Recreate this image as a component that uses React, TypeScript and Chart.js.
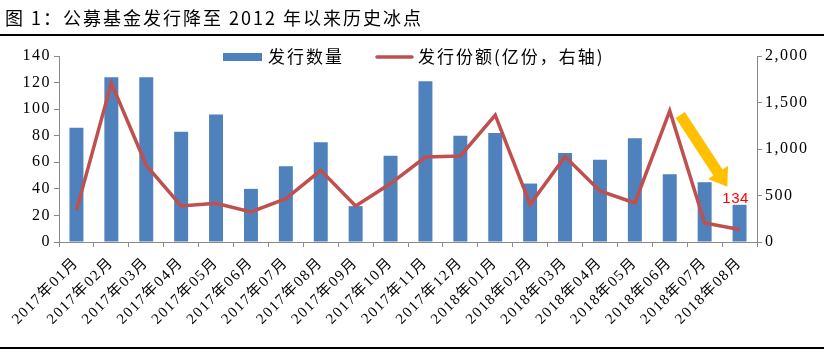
import React, { useEffect, useRef } from 'react';
import { Chart, registerables } from 'chart.js';

Chart.register(...registerables);

const TITLE = '图 1：公募基金发行降至 2012 年以来历史冰点';
const SERIES_BAR = '发行数量';
const SERIES_LINE = '发行份额(亿份，右轴)';

const months = [
  '2017年01月', '2017年02月', '2017年03月', '2017年04月', '2017年05月',
  '2017年06月', '2017年07月', '2017年08月', '2017年09月', '2017年10月',
  '2017年11月', '2017年12月', '2018年01月', '2018年02月', '2018年03月',
  '2018年04月', '2018年05月', '2018年06月', '2018年07月', '2018年08月',
];

const issueCount = [86, 124, 124, 83, 96, 40, 57, 75, 27, 65, 121, 80, 82, 44, 67, 62, 78, 51, 45, 28];
const issueShares = [340, 1710, 825, 387, 416, 323, 466, 771, 387, 628, 914, 925, 1365, 405, 918, 549, 420, 1410, 204, 134];

const leftMax = 140;
const leftStep = 20;
const rightMax = 2000;
const rightStep = 500;

const lastLabel = '134';

const BAR_COLOR = '#4F81BD';
const LINE_COLOR = '#C0504D';
const AXIS_COLOR = '#898989';
const TICK_FONT = "'Liberation Serif', 'Noto Sans CJK SC', serif";
const CJK_FONT = "'Noto Sans CJK SC', sans-serif";

export default function App() {
  const ref = useRef<HTMLCanvasElement>(null);

  useEffect(() => {
    const canvas = ref.current;
    if (!canvas) return;

    const overlay = {
      id: 'overlay',
      beforeLayout(c: any) {
        c.ctx.letterSpacing = '1.5px';
      },
      beforeDraw(c: any) {
        const ctx = c.ctx;
        ctx.save();
        ctx.fillStyle = '#fff';
        ctx.fillRect(0, 0, c.width, c.height);
        ctx.restore();
        ctx.letterSpacing = '1.5px';
      },
      afterDraw(c: any) {
        const ctx = c.ctx as CanvasRenderingContext2D;
        const W = c.width;
        ctx.save();
        // title
        (ctx as any).letterSpacing = '2px';
        ctx.fillStyle = '#000';
        ctx.font = `18px ${CJK_FONT}`;
        ctx.textBaseline = 'middle';
        ctx.textAlign = 'left';
        ctx.fillText(TITLE, 5, 18);
        // rules
        ctx.strokeStyle = '#000';
        ctx.lineWidth = 2;
        ctx.beginPath();
        ctx.moveTo(0, 35);
        ctx.lineTo(W, 35);
        ctx.moveTo(0, 348);
        ctx.lineTo(W, 348);
        ctx.stroke();

        // legend
        ctx.fillStyle = BAR_COLOR;
        ctx.fillRect(223, 53, 39, 8);
        ctx.fillStyle = '#000';
        ctx.font = `17px ${CJK_FONT}`;
        ctx.fillText(SERIES_BAR, 268, 57);
        ctx.strokeStyle = LINE_COLOR;
        ctx.lineWidth = 3.5;
        ctx.lineCap = 'round';
        ctx.beginPath();
        ctx.moveTo(377, 57);
        ctx.lineTo(412, 57);
        ctx.stroke();
        ctx.fillText(SERIES_LINE, 418, 57);

        // arrow annotation
        const xs = c.scales.x;
        const yr = c.scales.y1;
        const sx = xs.getPixelForValue(17.3);
        const sy = yr.getPixelForValue(1365);
        const tx = xs.getPixelForValue(18.65);
        const ty = yr.getPixelForValue(595);
        const dx = tx - sx;
        const dy = ty - sy;
        const len = Math.hypot(dx, dy);
        const ux = dx / len;
        const uy = dy / len;
        const px = -uy;
        const py = ux;
        const shaftW = 5.5;
        const headW = 12;
        const headL = 17;
        const bx = tx - ux * headL;
        const by = ty - uy * headL;
        ctx.fillStyle = '#FFC000';
        ctx.beginPath();
        ctx.moveTo(sx + px * shaftW, sy + py * shaftW);
        ctx.lineTo(bx + px * shaftW, by + py * shaftW);
        ctx.lineTo(bx + px * headW, by + py * headW);
        ctx.lineTo(tx, ty);
        ctx.lineTo(bx - px * headW, by - py * headW);
        ctx.lineTo(bx - px * shaftW, by - py * shaftW);
        ctx.lineTo(sx - px * shaftW, sy - py * shaftW);
        ctx.closePath();
        ctx.fill();

        // last value label
        const lx = xs.getPixelForValue(issueShares.length - 1) - 4;
        const ly = yr.getPixelForValue(issueShares[issueShares.length - 1]) - 31;
        (ctx as any).letterSpacing = '0.5px';
        ctx.fillStyle = '#FF0000';
        ctx.font = "15px 'Liberation Sans', sans-serif";
        ctx.textAlign = 'center';
        ctx.fillText(lastLabel, lx, ly);
        ctx.restore();
      },
    };

    const chart = new Chart(canvas, {
      type: 'bar',
      data: {
        labels: months,
        datasets: [
          {
            type: 'bar',
            label: SERIES_BAR,
            data: issueCount,
            backgroundColor: BAR_COLOR,
            borderWidth: 0,
            barPercentage: 0.4,
            categoryPercentage: 1,
            yAxisID: 'y',
            order: 2,
          },
          {
            type: 'line',
            label: SERIES_LINE,
            data: issueShares,
            borderColor: LINE_COLOR,
            backgroundColor: LINE_COLOR,
            borderWidth: 3.5,
            pointRadius: 0,
            tension: 0,
            yAxisID: 'y1',
            order: 1,
          },
        ],
      },
      options: {
        responsive: false,
        animation: false,
        devicePixelRatio: 1,
        layout: { padding: { top: 56, left: 0, right: 0, bottom: 0 } },
        plugins: {
          legend: { display: false },
          title: { display: false },
          tooltip: { enabled: false },
        },
        scales: {
          x: {
            offset: true,
            grid: { offset: true, drawOnChartArea: false, tickLength: 5, color: AXIS_COLOR },
            border: { color: AXIS_COLOR },
            ticks: {
              autoSkip: false,
              maxRotation: 45,
              minRotation: 45,
              padding: 7,
              color: '#000',
              font: { family: TICK_FONT, size: 15 },
            },
            afterFit: (s: any) => { s.height = 113; },
          },
          y: {
            position: 'left',
            min: 0,
            max: leftMax,
            ticks: { stepSize: leftStep, padding: 3, color: '#000', font: { family: TICK_FONT, size: 16 } },
            grid: { drawOnChartArea: false, tickLength: 5, color: AXIS_COLOR },
            border: { color: AXIS_COLOR },
            afterFit: (s: any) => { s.width = 59; },
          },
          y1: {
            position: 'right',
            min: 0,
            max: rightMax,
            ticks: {
              stepSize: rightStep,
              padding: 3,
              color: '#000',
              font: { family: TICK_FONT, size: 16 },
              callback: (v: any) => Number(v).toLocaleString('en-US'),
            },
            grid: { drawOnChartArea: false, tickLength: 5, color: AXIS_COLOR },
            border: { color: AXIS_COLOR },
            afterFit: (s: any) => { s.width = 67; },
          },
        },
      },
      plugins: [overlay],
    });

    return () => chart.destroy();
  }, []);

  return (
    <div style={{ position: 'fixed', left: 0, top: 0, width: 824, height: 355, background: '#fff' }}>
      <canvas ref={ref} width={824} height={355} style={{ display: 'block' }} />
    </div>
  );
}
